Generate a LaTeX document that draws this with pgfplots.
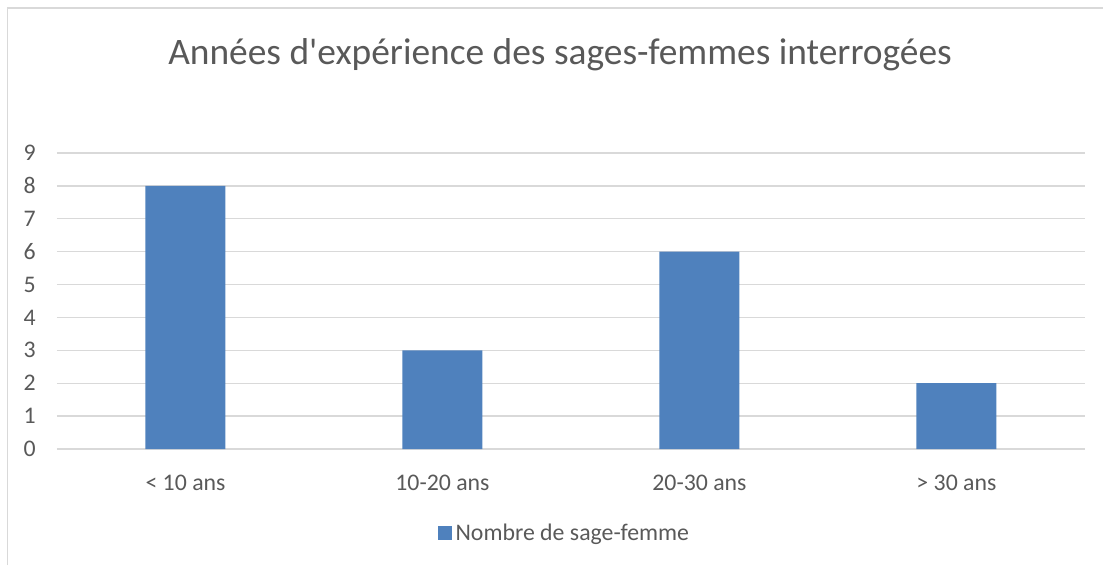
\documentclass[border=0pt]{standalone}
\usepackage{pgfplots}
\pgfplotsset{compat=1.18}
\usepackage{fontspec}
\setmainfont{Carlito}
\definecolor{barc}{HTML}{4F81BD}
\definecolor{txt}{HTML}{595959}
\definecolor{grd}{HTML}{D9D9D9}
\begin{document}
\begin{tikzpicture}[x=1pt,y=1pt]
\path[use as bounding box] (0,0) rectangle (1103,565);
\draw[grd, line width=1.5pt] (7.5,0) -- (7.5,557) -- (1103,557);
\node[text=txt, font=\fontsize{37.4}{44}\selectfont, anchor=base] at (560,500) {Années d\textquotesingle expérience des sages-femmes interrogées};
\begin{axis}[
  at={(57pt,116pt)}, anchor=south west,
  scale only axis, width=1028pt, height=296pt,
  ybar, bar width=80pt,
  xmin=-0.5, xmax=3.5, ymin=0, ymax=9,
  ytick={0,...,9}, xtick=data,
  xticklabels={{< 10 ans},{10-20 ans},{20-30 ans},{> 30 ans}},
  axis line style={draw=none}, major tick style={draw=none},
  ymajorgrids, grid style={grd, line width=1.3pt},
  ticklabel style={font=\fontsize{23.8}{28}\selectfont, text=txt},
  /pgf/number format/assume math mode=true,
  yticklabel style={anchor=east, inner sep=0pt, xshift=-21pt},
  xticklabel style={anchor=center, inner sep=0pt, yshift=-30pt},
  legend style={at={(0.4935,-0.284)}, anchor=center, draw=none, fill=none,
    font=\fontsize{23.8}{28}\selectfont, text=txt, inner sep=0pt},
  legend image code/.code={\fill[barc] (0pt,-7pt) rectangle (14pt,7pt); \path (16pt,0pt);},
]
\addplot[fill=barc, draw=none] coordinates {(0,8) (1,3) (2,6) (3,2)};
\addlegendentry{Nombre de sage-femme}
\end{axis}
\end{tikzpicture}
\end{document}
